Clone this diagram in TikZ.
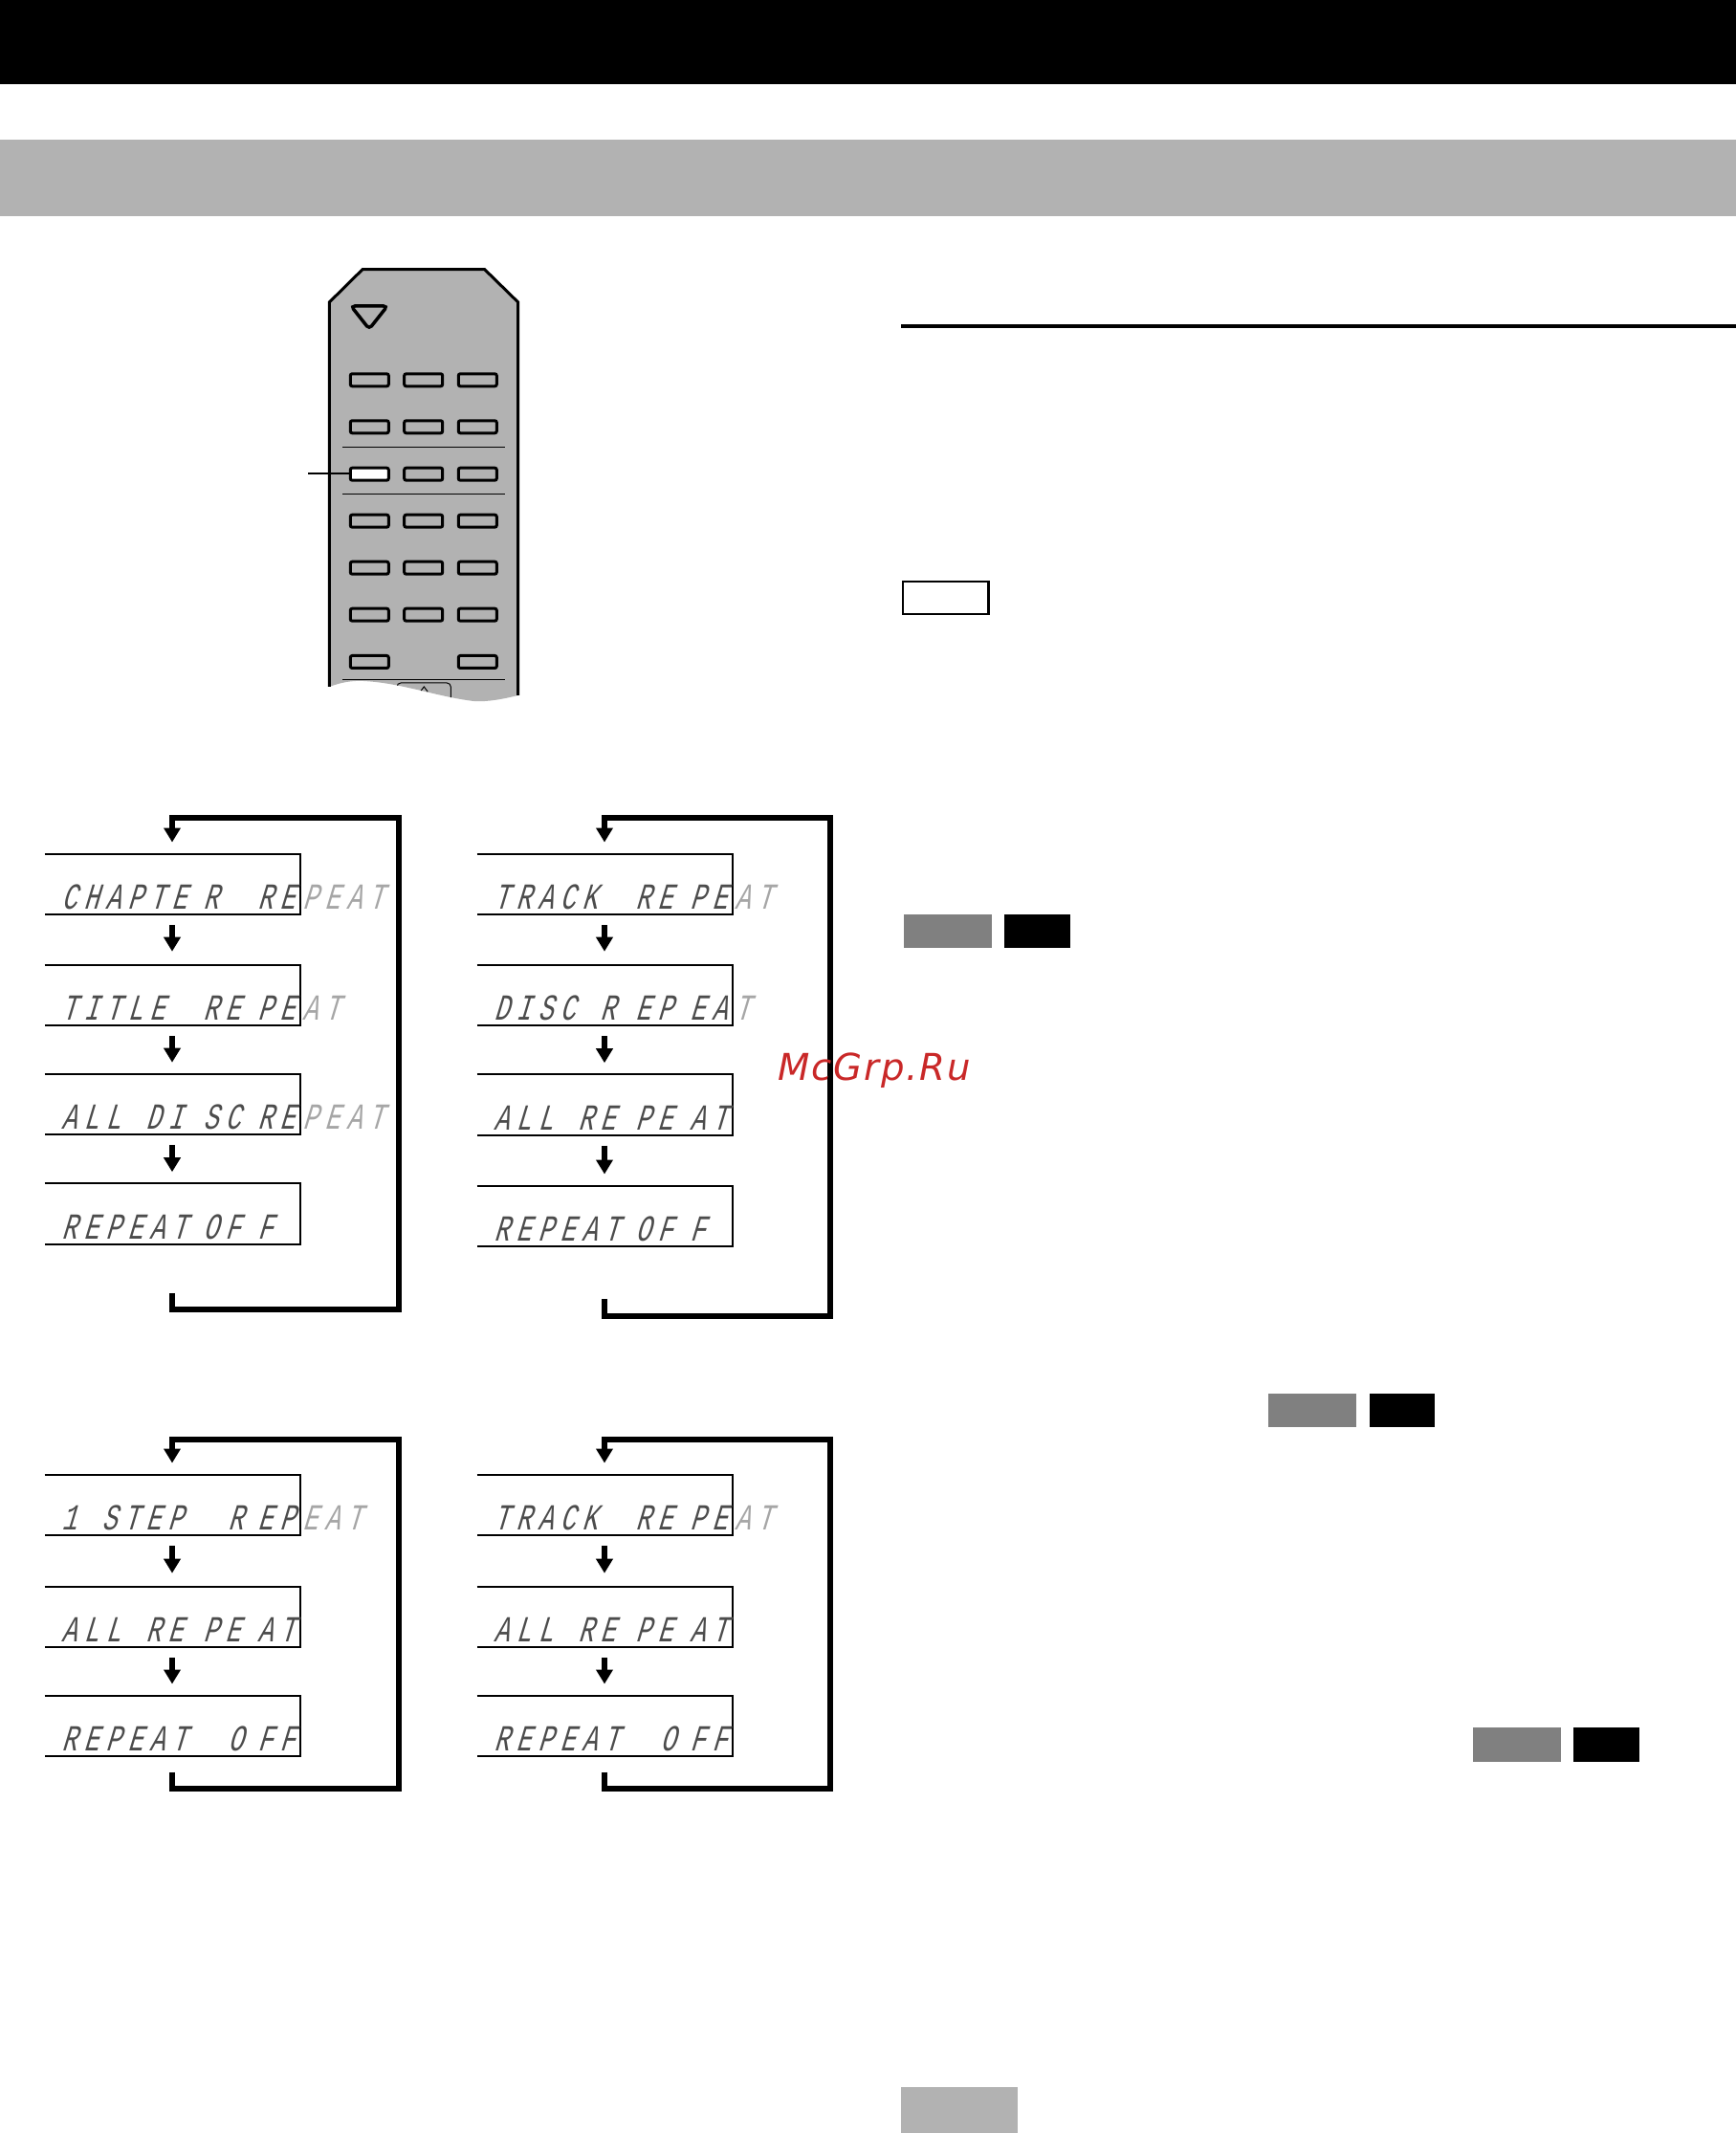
\documentclass[tikz,border=0pt]{standalone}
\usepackage{fontspec}
\usetikzlibrary{arrows.meta}
\newfontfamily\lcdfont[FakeSlant=0.3,FakeStretch=0.7,LetterSpace=18,WordSpace=1.11]{Liberation Mono}
\newfontfamily\markfont[LetterSpace=4.5]{DejaVu Sans}
\definecolor{panelgray}{HTML}{B2B2B2}
\definecolor{swatchgray}{HTML}{808080}
\definecolor{markred}{HTML}{C92828}
\tikzset{
	btn/.style={draw, fill=panelgray, line width=0.3mm, rounded corners=0.2mm, minimum width=0.40cm, minimum height=0.13cm, inner sep=0pt},
	lcdbox/.style={rectangle, minimum width=2.67cm, minimum height=0.635cm, inner sep=0pt, outer sep=0pt},
	lcdline/.style={line width=0.2mm},
	lcdtext/.style={anchor=base west, inner sep=0pt, text=black!70, font=\lcdfont\fontsize{10.91}{12}\selectfont},
	flow/.style={line width=0.6mm, -{Triangle[length=1.5mm,width=1.7mm]}, shorten <=1.1mm, shorten >=1.2mm},
	loopflow/.style={line width=0.6mm, -{Triangle[length=1.5mm,width=1.7mm]}, shorten >=1.2mm},
}
\def\display(#1)(#2,#3)#4#5#6#7{
	\node[lcdbox] (#1) at (#2, #3) {};
	\draw[lcdline] (#1.north west) -- (#1.north east) -- (#1.south east) -- (#1.south west);
	\node[lcdtext] (#1t) at ([shift={(0.175, 0.055)}]#1.south west) {\makebox[1.48cm][l]{#4}\makebox[0.57cm][l]{#5}\makebox[0.47cm][l]{#6}{\color{black!35}#7}};
}
\begin{document}
\begin{tikzpicture}
		%%%%% START %%%%%
		\useasboundingbox (0, 0) rectangle (18.15, 22.30);
		
		\fill[black] (0, 21.42) rectangle (18.15, 22.30);
		\fill[panelgray] (0, 20.04) rectangle (18.15, 20.84);
		\fill[panelgray] (9.42, 0) rectangle (10.64, 0.48);
		
		\draw[line width=0.33mm] (9.42, 18.89) -- (18.15, 18.89);
		\draw[line width=0.12mm] (9.44, 16.22) rectangle (10.34, 15.88);
		\draw[line width=0.25mm] (10.335, 16.22) -- (10.335, 15.88);
		
		\fill[swatchgray] (9.45, 12.74) rectangle (10.37, 12.39);
		\fill[black] (10.50, 12.74) rectangle (11.19, 12.39);
		\fill[swatchgray] (13.26, 7.73) rectangle (14.18, 7.38);
		\fill[black] (14.32, 7.73) rectangle (15.00, 7.38);
		\fill[swatchgray] (15.40, 4.24) rectangle (16.32, 3.88);
		\fill[black] (16.45, 4.24) rectangle (17.14, 3.88);
		
		% remote
		\fill[panelgray] (3.443, 15.12) -- (3.443, 19.14) -- (3.79, 19.483) -- (5.067, 19.483) -- (5.417, 19.14) -- (5.417, 15.03) .. controls (5.25, 14.99) and (5.10, 14.96) .. (4.95, 14.97) .. controls (4.55, 15.02) and (4.20, 15.16) .. (3.80, 15.18) .. controls (3.68, 15.185) and (3.58, 15.17) .. cycle;
		\draw[line width=0.3mm] (3.443, 15.12) -- (3.443, 19.14) -- (3.79, 19.483) -- (5.067, 19.483) -- (5.417, 19.14) -- (5.417, 15.03);
		\draw[line width=0.35mm, rounded corners=0.4mm] (3.67, 19.10) -- (4.05, 19.10) -- (3.86, 18.86) -- cycle;
		
		\draw[line width=0.1mm] (3.583, 17.627) -- (5.277, 17.627);
		\draw[line width=0.1mm] (3.583, 17.137) -- (5.277, 17.137);
		\draw[line width=0.1mm] (3.583, 15.197) -- (5.277, 15.197);
		
		\node[btn] (b11) at (3.863, 18.327) {};
		\node[btn] (b12) at (4.427, 18.327) {};
		\node[btn] (b13) at (4.993, 18.327) {};
		\node[btn] (b21) at (3.863, 17.837) {};
		\node[btn] (b22) at (4.427, 17.837) {};
		\node[btn] (b23) at (4.993, 17.837) {};
		\node[btn, fill=white] (b31) at (3.863, 17.343) {};
		\node[btn] (b32) at (4.427, 17.343) {};
		\node[btn] (b33) at (4.993, 17.343) {};
		\node[btn] (b41) at (3.863, 16.853) {};
		\node[btn] (b42) at (4.427, 16.853) {};
		\node[btn] (b43) at (4.993, 16.853) {};
		\node[btn] (b51) at (3.863, 16.363) {};
		\node[btn] (b52) at (4.427, 16.363) {};
		\node[btn] (b53) at (4.993, 16.363) {};
		\node[btn] (b61) at (3.863, 15.873) {};
		\node[btn] (b62) at (4.427, 15.873) {};
		\node[btn] (b63) at (4.993, 15.873) {};
		\node[btn] (b71) at (3.863, 15.38) {};
		\node[btn] (b73) at (4.993, 15.38) {};
		
		\coordinate (pointer) at (3.22, 17.353);
		\draw[line width=0.2mm] (pointer) -- (b31.west |- pointer);
		
		\begin{scope}
			\clip (3.443, 15.12) .. controls (3.58, 15.17) and (3.68, 15.185) .. (3.80, 15.18) .. controls (4.20, 15.16) and (4.55, 15.02) .. (4.95, 14.97) .. controls (5.10, 14.96) and (5.25, 14.99) .. (5.417, 15.03) -- (5.417, 15.30) -- (3.443, 15.30) -- cycle;
			\draw[line width=0.1mm, rounded corners=0.4mm] (4.15, 14.8) -- (4.15, 15.16) -- (4.713, 15.16) -- (4.713, 14.8);
			\draw[line width=0.1mm] (4.395, 15.07) -- (4.433, 15.12) -- (4.471, 15.07);
		\end{scope}
		
		% upper left
		\display(a1)(1.80, 13.057){CHAPTE}{R~}{RE}{PEAT}
		\display(a2)(1.80, 11.895){TITLE~}{RE}{PE}{AT}
		\display(a3)(1.80, 10.755){ALL~DI}{SC}{RE}{PEAT}
		\display(a4)(1.80, 9.61){REPEAT}{OF}{F}{}
		\coordinate (a0) at (1.80, 8.78);
		\coordinate (ar) at (4.167, 8.61);
		\coordinate (at) at (4.167, 13.75);
		\draw[flow, shorten >=1.4mm] (a1) -- (a2);
		\draw[flow] (a2) -- (a3);
		\draw[flow] (a3) -- (a4);
		\draw[loopflow] (a0) |- (ar) -- (at) -| (a1.north);
		
		% upper right
		\display(c1)(6.32, 13.057){TRACK~}{RE}{PE}{AT}
		\display(c2)(6.32, 11.895){DISC~R}{EP}{EA}{T}
		\display(c3)(6.32, 10.75){ALL~RE}{PE}{AT}{}
		\display(c4)(6.32, 9.587){REPEAT}{OF}{F}{}
		\coordinate (c0) at (6.32, 8.72);
		\coordinate (cr) at (8.68, 8.54);
		\coordinate (ct) at (8.68, 13.75);
		\draw[flow, shorten >=1.4mm] (c1) -- (c2);
		\draw[flow] (c2) -- (c3);
		\draw[flow] (c3) -- (c4);
		\draw[loopflow] (c0) |- (cr) -- (ct) -| (c1.north);
		
		% lower left
		\display(e1)(1.80, 6.567){1~STEP}{~R}{EP}{EAT}
		\display(e2)(1.80, 5.395){ALL~RE}{PE}{AT}{}
		\display(e3)(1.80, 4.257){REPEAT}{~O}{FF}{}
		\coordinate (e0) at (1.80, 3.773);
		\coordinate (er) at (4.167, 3.60);
		\coordinate (et) at (4.167, 7.25);
		\draw[flow, shorten >=1.4mm] (e1) -- (e2);
		\draw[flow] (e2) -- (e3);
		\draw[loopflow] (e0) |- (er) -- (et) -| (e1.north);
		
		% lower right
		\display(g1)(6.32, 6.567){TRACK~}{RE}{PE}{AT}
		\display(g2)(6.32, 5.395){ALL~RE}{PE}{AT}{}
		\display(g3)(6.32, 4.257){REPEAT}{~O}{FF}{}
		\coordinate (g0) at (6.32, 3.773);
		\coordinate (gr) at (8.68, 3.60);
		\coordinate (gt) at (8.68, 7.25);
		\draw[flow, shorten >=1.4mm] (g1) -- (g2);
		\draw[flow] (g2) -- (g3);
		\draw[loopflow] (g0) |- (gr) -- (gt) -| (g1.north);
		
		\node[anchor=base west, inner sep=0pt, text=markred, font=\markfont\itshape\fontsize{11}{13}\selectfont] (mark) at (8.13, 11.00) {McGrp.Ru};
		
		%%%%% END %%%%%
	\end{tikzpicture}
\end{document}
